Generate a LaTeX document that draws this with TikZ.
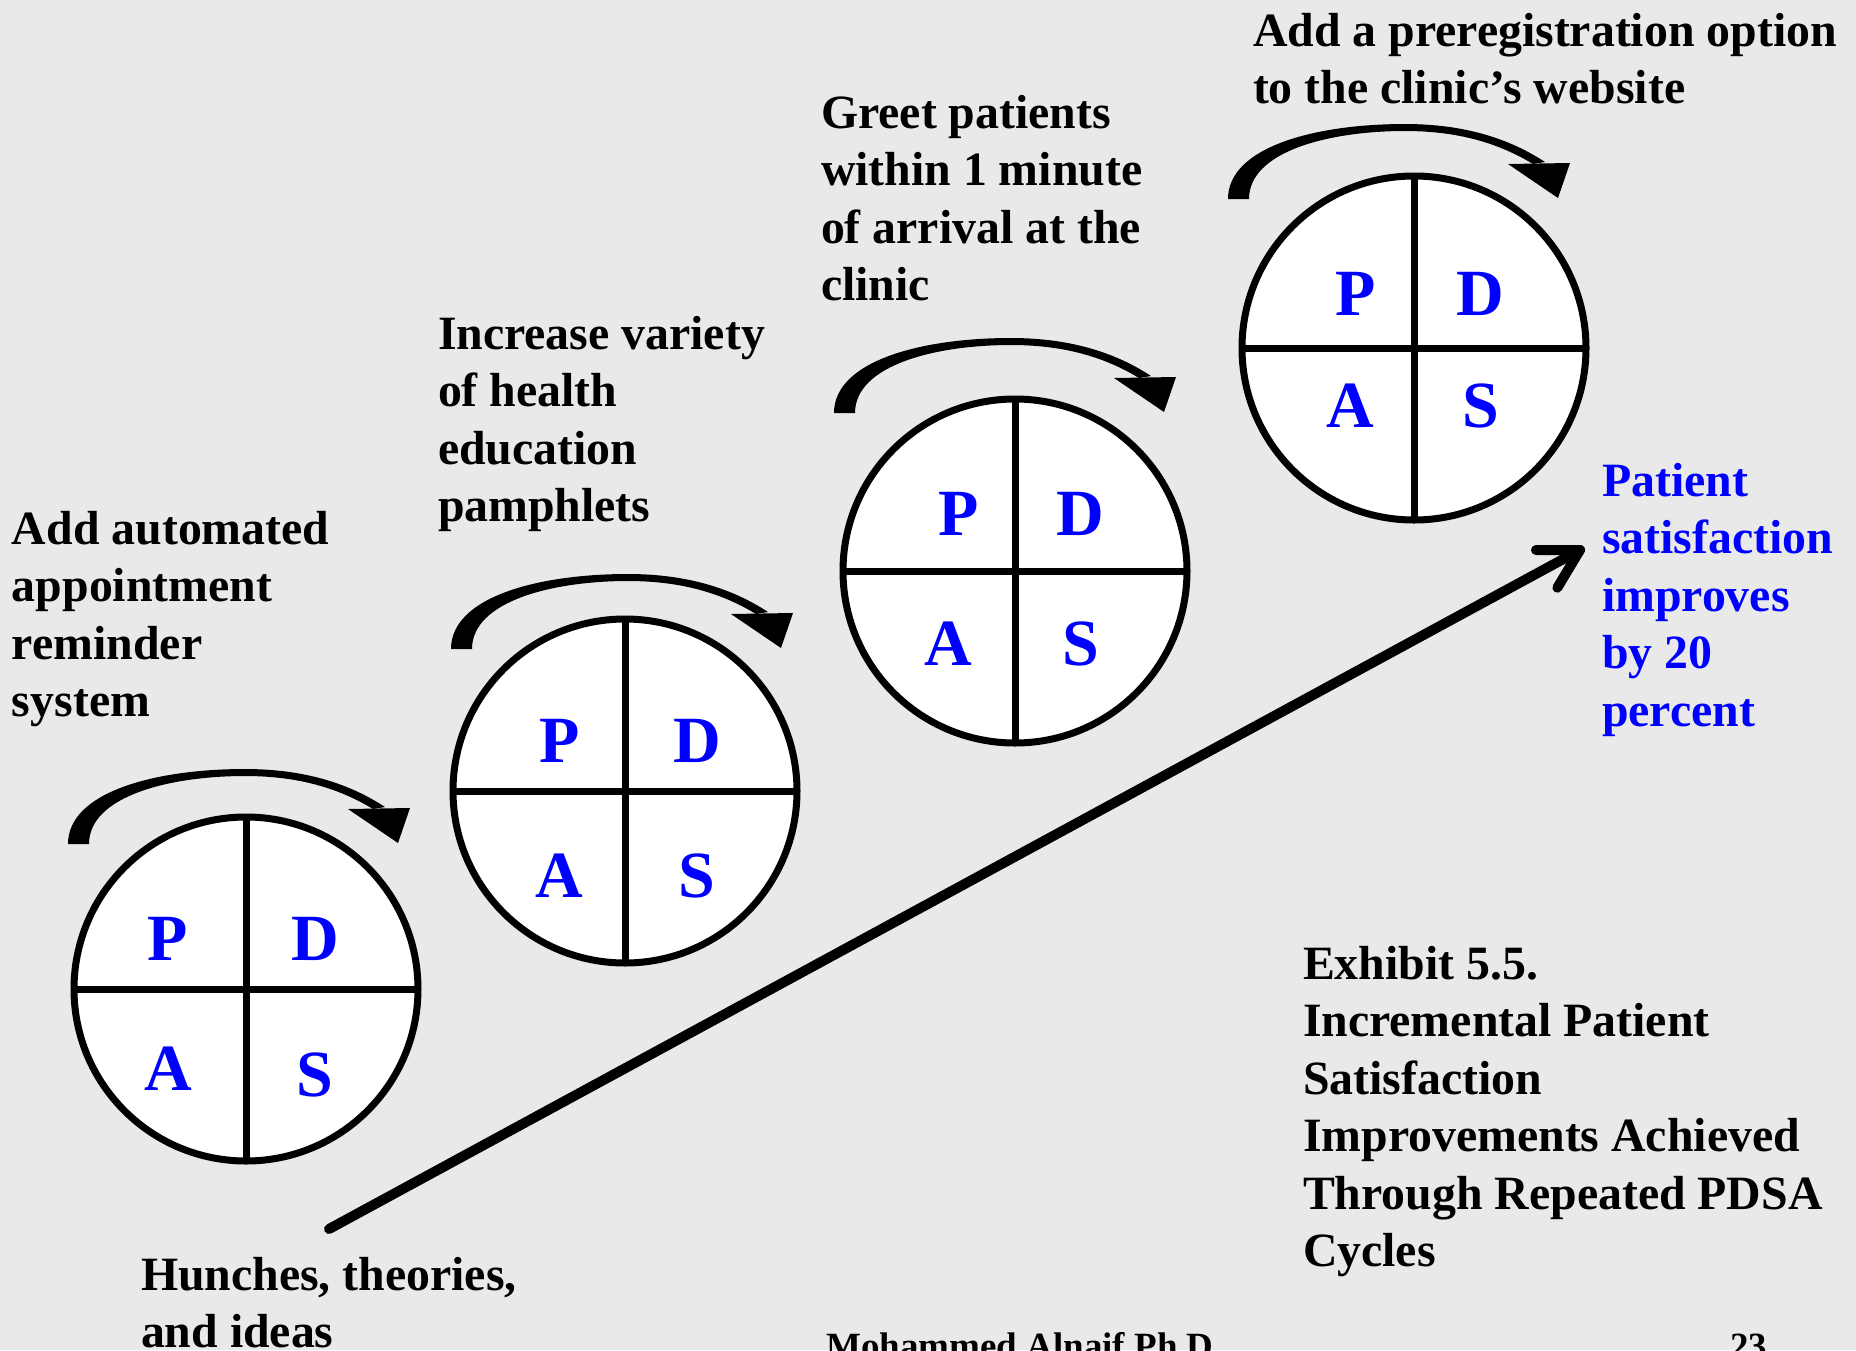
\documentclass[tikz,border=0pt]{standalone}
\usepackage{fontspec}
\setmainfont{Liberation Serif}
\definecolor{paper}{RGB}{233,233,233}
\definecolor{pdsablue}{RGB}{0,0,255}
\tikzset{
  caption/.style={anchor=base west, inner sep=0pt, outer sep=0pt,
    font=\fontsize{47.8}{57.5}\selectfont\bfseries},
  footer/.style={anchor=base west, inner sep=0pt,
    font=\fontsize{37}{44}\selectfont\bfseries},
  letter/.style={inner sep=0pt, text=pdsablue,
    font=\fontsize{66}{66}\selectfont\bfseries},
  ring/.style={circle, draw=black, fill=white, line width=7pt,
    minimum size=344pt, inner sep=0pt, outer sep=0pt},
  divider/.style={draw=black, line width=7pt},
  mainarrow/.style={draw=black, line width=10pt, line cap=round, line join=round},
  % curved "turning" arrow above each cycle wheel, tapered shaft + triangular head
  cyclearrow/.pic={
    \fill[black] (-177,-144) .. controls (-177,-196) and (-90,-219) .. (0,-219)
      .. controls (60,-219) and (105,-204) .. (140,-181)
      -- (128,-179) .. controls (95,-199) and (55,-212) .. (0,-212)
      .. controls (-75,-212) and (-156,-192) .. (-156,-144) -- cycle;
    \fill[black] (103,-179) -- (165,-180) -- (153,-145) -- cycle;
  }
}
\newcommand\pdsawheel[9]{%
  % #1 name, #2..#9 offsets of P, D, A, S
  \node[ring] (#1) {};
  \draw[divider] (#1.north) -- (#1.south);
  \draw[divider] (#1.west) -- (#1.east);
  \node[letter] (#1-p) at ([shift={(#2,#3)}]#1) {P};
  \node[letter] (#1-d) at ([shift={(#4,#5)}]#1) {D};
  \node[letter] (#1-a) at ([shift={(#6,#7)}]#1) {A};
  \node[letter] (#1-s) at ([shift={(#8,#9)}]#1) {S};
}
\begin{document}
\begin{tikzpicture}[x=1pt, y=-1pt]
  \useasboundingbox (0,0) rectangle (1856,1350);
  \clip (0,0) rectangle (1856,1350);
  \fill[paper] (0,0) rectangle (1856,1350);

  % the four PDSA wheels, climbing to the right
  \begin{scope}[shift={(246,989)}]
    \pdsawheel{w1}{-78}{-50}{69}{-50}{-78}{80}{69}{86}
  \end{scope}
  \begin{scope}[shift={(625,791)}]
    \pdsawheel{w2}{-65}{-50}{72}{-50}{-66}{85}{72}{85}
  \end{scope}
  \begin{scope}[shift={(1015,571)}]
    \pdsawheel{w3}{-56}{-57}{65}{-57}{-67}{73}{66}{73}
  \end{scope}
  \begin{scope}[shift={(1414,348)}]
    \pdsawheel{w4}{-58}{-54}{66}{-54}{-64}{58}{67}{58}
  \end{scope}

  % turning arrows over the wheels
  \pic at ([shift={(-1,-1)}]w1) {cyclearrow};
  \pic at ([shift={(3,2)}]w2) {cyclearrow};
  \pic at ([shift={(-4,-14)}]w3) {cyclearrow};
  \pic at ([shift={(-9,-5)}]w4) {cyclearrow};

  % change ideas tested in each cycle
  \node[caption] (idea1) at (12,544)
    {\vtop{\hbox{Add automated}\hbox{appointment}\hbox{reminder}\hbox{system}}};
  \node[caption] (idea2) at (438,349)
    {\vtop{\hbox{Increase variety}\hbox{of health}\hbox{education}\hbox{pamphlets}}};
  \node[caption] (idea3) at (821,128)
    {\vtop{\hbox{Greet patients}\hbox{within 1 minute}\hbox{of arrival at the}\hbox{clinic}}};
  \node[caption] (idea4) at (1253,46)
    {\vtop{\hbox{Add a preregistration option}\hbox{to the clinic’s website}}};

  % overall improvement arrow
  \node[caption] (hunches) at (141,1290)
    {\vtop{\hbox{Hunches, theories,}\hbox{and ideas}}};
  \node[caption, text=pdsablue] (goal) at (1602,496)
    {\vtop{\hbox{Patient}\hbox{satisfaction}\hbox{improves}\hbox{by 20}\hbox{percent}}};
  \coordinate (hunchend) at (329,1229);
  \coordinate (goaltip) at (1580,550);
  \draw[mainarrow] (hunchend) -- (goaltip);
  \draw[mainarrow] ([shift={(180:44)}]goaltip) -- (goaltip) -- ([shift={(121:44)}]goaltip);

  % exhibit title
  \node[caption] (title) at (1303,979)
    {\vtop{\hbox{Exhibit 5.5.}\hbox{Incremental Patient}\hbox{Satisfaction}%
      \hbox{Improvements Achieved}\hbox{Through Repeated PDSA}\hbox{Cycles}}};

  % slide footer
  \node[footer] (author) at (826,1358) {Mohammed Alnaif Ph.D.};
  \node[footer] (page) at (1730,1358) {23};
\end{tikzpicture}
\end{document}
